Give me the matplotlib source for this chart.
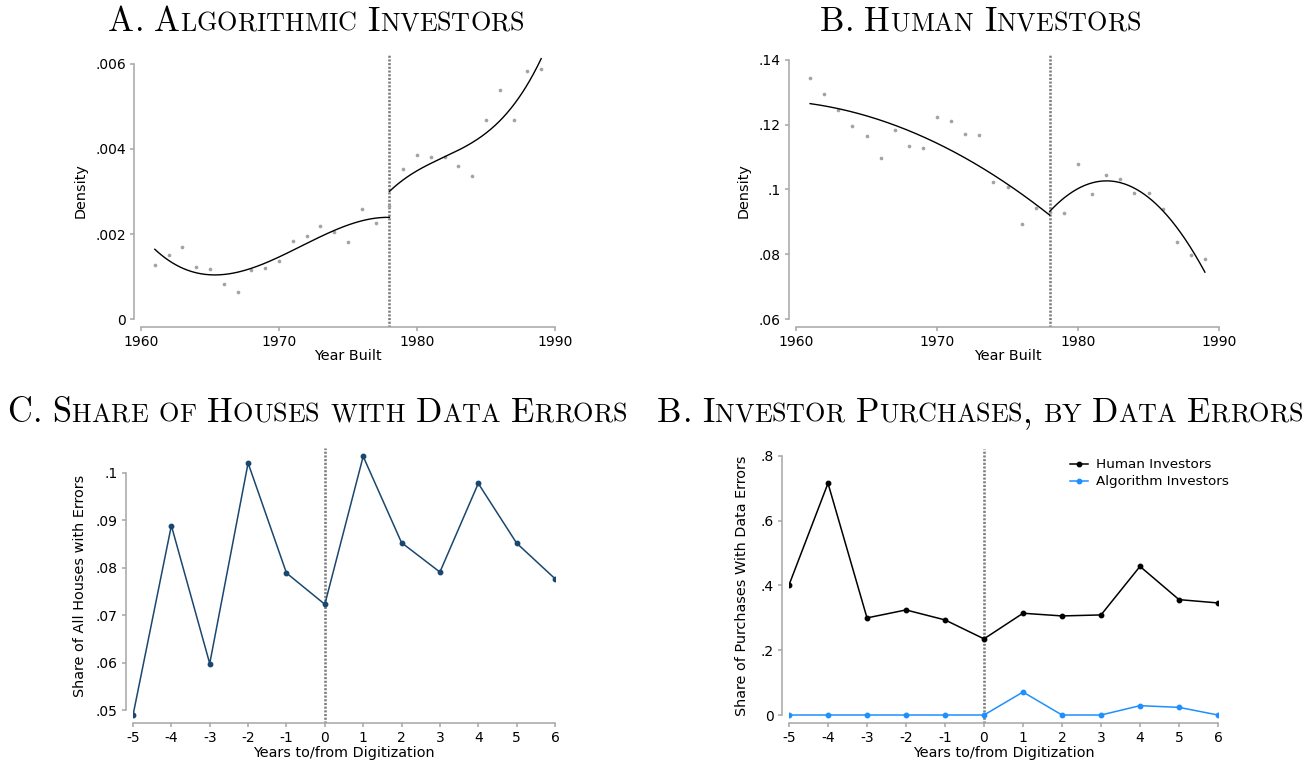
import numpy as np
import matplotlib
matplotlib.use("Agg")
import matplotlib.pyplot as plt
from matplotlib.offsetbox import TextArea, HPacker, AnchoredOffsetbox

# --------------------------------------------
# DATA
# --------------------------------------------

years = np.arange(1961, 1990)
cutoff = 1978

algo_density = [.00126, .00151, .00170, .00122, .00118, .00082, .00064, .00116,
                .00121, .00136, .00184, .00195, .00220, .00205, .00182, .00258,
                .00227, .00267, .00352, .00386, .00380, .00380, .00360, .00336,
                .00468, .00539, .00468, .00584, .00588]

human_density = [.1343, .1296, .1246, .1195, .1166, .1097, .1185, .1133,
                 .1129, .1225, .1211, .1172, .1167, .1022, .1007, .0894,
                 .0944, .0930, .0926, .1079, .0987, .1045, .1033, .0990,
                 .0988, .0941, .0838, .0797, .0785]

rel_years = np.arange(-5, 7)
share_errors = [.0489, .0889, .0598, .1021, .0789, .0723, .1035, .0853,
                .0791, .0978, .0852, .0777]
human_err = [.4015, .7158, .2999, .3245, .2937, .2352, .3143, .3060,
             .3091, .4590, .3564, .3461]
algo_err = [0, 0, 0, 0, 0, 0, .0709, 0, 0, .0288, .0236, 0]

W, H = 1314, 765
GRAY_AX = "#a6a6a6"
DOT = "#a3a3a3"
VLINE = "#808080"
NAVY = "#1a476f"
BLUE = "#1e8fff"
TICK_FS = 10
LABEL_FS = 10.4

plt.rcParams['font.family'] = 'DejaVu Sans'
plt.rcParams['axes.unicode_minus'] = False

fig = plt.figure(figsize=(W / 100, H / 100), dpi=100)


def make_axes(left, right, top, bottom):
    return fig.add_axes([left / W, 1 - bottom / H, (right - left) / W, (bottom - top) / H])


def style(ax, xticks, yticks, ylabels, ylim):
    ax.set_xlim(xticks[0], xticks[-1])
    ax.set_ylim(*ylim)
    for s in ['top', 'right']:
        ax.spines[s].set_visible(False)
    for s in ['left', 'bottom']:
        ax.spines[s].set_color(GRAY_AX)
        ax.spines[s].set_linewidth(1.1)
    ax.spines['left'].set_position(('outward', 5.4))
    ax.spines['left'].set_bounds(yticks[-1], yticks[0])
    ax.spines['bottom'].set_bounds(xticks[0], xticks[-1])
    ax.set_xticks(xticks)
    ax.set_xticklabels([str(t) for t in xticks])
    ax.set_yticks(yticks)
    ax.set_yticklabels(ylabels)
    ax.tick_params(axis='both', direction='out', length=3, width=1.1, color=GRAY_AX,
                   labelsize=TICK_FS, pad=2.5)
    ax.set_facecolor('none')


def vline(ax, x):
    ax.axvline(x, color=VLINE, lw=1.9, linestyle=(0, (0.8, 0.6)), zorder=1)


def labels(ax, xl, yl, xpos, ypos):
    ax.set_xlabel(xl, fontsize=LABEL_FS)
    ax.set_ylabel(yl, fontsize=LABEL_FS)
    ax.xaxis.label.set_va('center')
    ax.yaxis.label.set_va('center')
    ax.xaxis.set_label_coords(0.5, xpos)
    ax.yaxis.set_label_coords(ypos, 0.5)


def fitted(ax, x, y, deg):
    # polynomial fit on each side of the cutoff
    x = np.asarray(x, dtype=float)
    y = np.asarray(y, dtype=float)
    left = x < cutoff
    for mask, lo, hi in [(left, x[0], cutoff), (~left, cutoff, x[-1])]:
        coef = np.polyfit(x[mask] - cutoff, y[mask], deg)
        grid = np.linspace(lo, hi, 200)
        ax.plot(grid, np.polyval(coef, grid - cutoff), color='black', lw=1.0, zorder=3)


def small_caps_title(text, cx, cy, big=24.8, small=18.8):
    words = []
    for word in text.split(' '):
        parts = []
        first = True
        for ch in word:
            if first and ch.isupper():
                parts.append(TextArea(ch, textprops=dict(fontsize=big, family='cmr10')))
            elif ch.isalpha():
                parts.append(TextArea(ch.upper(), textprops=dict(fontsize=small, family='cmr10')))
            else:
                parts.append(TextArea(ch, textprops=dict(fontsize=big, family='cmr10')))
            first = False
        words.append(HPacker(children=parts, align='baseline', pad=0, sep=0))
    box = HPacker(children=words, align='baseline', pad=0, sep=big * 0.32)
    anch = AnchoredOffsetbox(loc='center', child=box, bbox_to_anchor=(cx / W, 1 - cy / H),
                             bbox_transform=fig.transFigure, frameon=False, pad=0, borderpad=0)
    fig.add_artist(anch)


# --------------------------------------------
# A. Algorithmic investors
# --------------------------------------------
axA = make_axes(141, 555, 54, 327)
style(axA, [1960, 1970, 1980, 1990], [0, .002, .004, .006], ['0', '.002', '.004', '.006'],
      (-0.000188, 0.006235))
vline(axA, cutoff)
axA.scatter(years, algo_density, s=7, color=DOT, linewidths=0, zorder=2)
fitted(axA, years, algo_density, 3)
labels(axA, 'Year Built', 'Density', -0.106, -0.145)

# --------------------------------------------
# B. Human investors
# --------------------------------------------
axB = make_axes(796, 1219, 55, 327)
style(axB, [1960, 1970, 1980, 1990], [.06, .08, .1, .12, .14], ['.06', '.08', '.1', '.12', '.14'],
      (0.05753, 0.14154))
vline(axB, cutoff)
axB.scatter(years, human_density, s=7, color=DOT, linewidths=0, zorder=2)
fitted(axB, years, human_density, 2)
labels(axB, 'Year Built', 'Density', -0.106, -0.123)

# --------------------------------------------
# C. Share of houses with data errors
# --------------------------------------------
axC = make_axes(133, 555, 448, 723)
style(axC, list(rel_years), [.05, .06, .07, .08, .09, .1], ['.05', '.06', '.07', '.08', '.09', '.1'],
      (0.04726, 0.10527))
vline(axC, 0)
axC.plot(rel_years, share_errors, color=NAVY, lw=1.1, marker='o', ms=3.2, zorder=3)
labels(axC, 'Years to/from Digitization', 'Share of All Houses with Errors', -0.109, -0.126)

# --------------------------------------------
# D. Investor purchases by data errors
# --------------------------------------------
axD = make_axes(789, 1218, 449, 723)
style(axD, list(rel_years), [0, .2, .4, .6, .8], ['0', '.2', '.4', '.6', '.8'],
      (-0.0247, 0.8216))
vline(axD, 0)
axD.plot(rel_years, human_err, color='black', lw=1.1, marker='o', ms=3.2, zorder=3,
         label='Human Investors')
axD.plot(rel_years, algo_err, color=BLUE, lw=1.1, marker='o', ms=3.2, zorder=3,
         label='Algorithm Investors')
labels(axD, 'Years to/from Digitization', 'Share of Purchases With Data Errors', -0.109, -0.11)
axD.legend(loc='upper right', bbox_to_anchor=(1.047, 1.0), frameon=False, fontsize=9.7,
           handlelength=1.3, handletextpad=0.6, labelspacing=0.3, borderpad=0.2)

# --------------------------------------------
# TITLES
# --------------------------------------------
small_caps_title('A. Algorithmic Investors', 316, 22)
small_caps_title('B. Human Investors', 980, 22)
small_caps_title('C. Share of Houses with Data Errors', 317, 413)
small_caps_title('B. Investor Purchases, by Data Errors', 980, 413)

fig.savefig('out.png', dpi=100)
